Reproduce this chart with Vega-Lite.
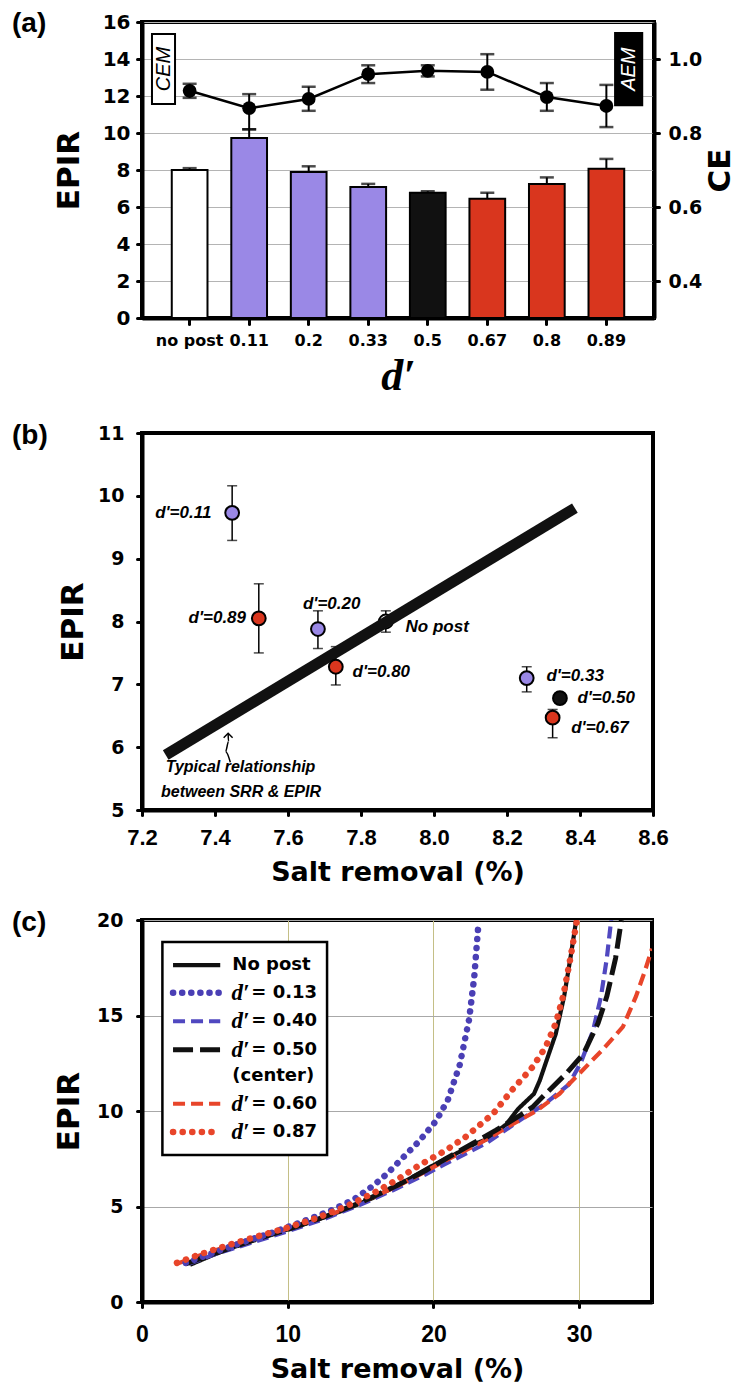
{
 "$schema": "https://vega.github.io/schema/vega-lite/v6.json",
 "background": "white",
 "padding": {"left": 10, "top": 8, "right": 0, "bottom": 0},
 "spacing": 20,
 "resolve": {"scale": {"color": "independent", "fill": "independent", "strokeDash": "independent"}},
 "config": {
  "view": {"stroke": "black", "strokeWidth": 4},
  "axis": {"labelFont": "DejaVu Sans", "labelFontWeight": "bold", "labelColor": "black", "titleFont": "DejaVu Sans", "titleFontWeight": "bold", "titleColor": "black", "domainColor": "black", "domainWidth": 4, "tickColor": "black", "tickWidth": 3, "tickSize": 5, "tickCap": "round", "grid": false, "labelFlush": false, "labelOverlap": false},
  "title": {"font": "Liberation Sans", "fontWeight": "bold", "fontSize": 28, "color": "black", "anchor": "start", "frame": "group"}
 },
 "datasets": {
  "bars": [
   {"d": "no post", "epir": 8.0, "hi": 8.1, "grp": "none"},
   {"d": "0.11", "epir": 9.73, "hi": 10.2, "grp": "CEM"},
   {"d": "0.2", "epir": 7.89, "hi": 8.2, "grp": "CEM"},
   {"d": "0.33", "epir": 7.08, "hi": 7.25, "grp": "CEM"},
   {"d": "0.5", "epir": 6.77, "hi": 6.85, "grp": "center"},
   {"d": "0.67", "epir": 6.45, "hi": 6.77, "grp": "AEM"},
   {"d": "0.8", "epir": 7.25, "hi": 7.6, "grp": "AEM"},
   {"d": "0.89", "epir": 8.07, "hi": 8.6, "grp": "AEM"}
  ],
  "ce": [
   {"d": "no post", "ce": 0.914, "lo": 0.895, "hi": 0.933},
   {"d": "0.11", "ce": 0.867, "lo": 0.81, "hi": 0.905},
   {"d": "0.2", "ce": 0.892, "lo": 0.86, "hi": 0.925},
   {"d": "0.33", "ce": 0.959, "lo": 0.935, "hi": 0.983},
   {"d": "0.5", "ce": 0.968, "lo": 0.953, "hi": 0.983},
   {"d": "0.67", "ce": 0.965, "lo": 0.917, "hi": 1.013},
   {"d": "0.8", "ce": 0.897, "lo": 0.86, "hi": 0.935},
   {"d": "0.89", "ce": 0.873, "lo": 0.816, "hi": 0.93}
  ],
  "boxes": [
   {"kind": "CEM", "x1": 0.0195, "x2": 0.0645, "y1": 11.57, "y2": 15.35, "xc": 0.042, "yc": 13.46},
   {"kind": "AEM", "x1": 0.924, "x2": 0.977, "y1": 11.5, "y2": 15.4, "xc": 0.9505, "yc": 13.45}
  ],
  "pts": [
   {"lab": "d'=0.11", "grp": "CEM", "x": 7.447, "y": 9.73, "lo": 9.29, "hi": 10.16},
   {"lab": "d'=0.89", "grp": "AEM", "x": 7.52, "y": 8.05, "lo": 7.5, "hi": 8.6},
   {"lab": "d'=0.20", "grp": "CEM", "x": 7.682, "y": 7.88, "lo": 7.57, "hi": 8.17},
   {"lab": "No post", "grp": "none", "x": 7.868, "y": 8.0, "lo": 7.83, "hi": 8.17},
   {"lab": "d'=0.80", "grp": "AEM", "x": 7.731, "y": 7.28, "lo": 6.99, "hi": 7.6},
   {"lab": "d'=0.33", "grp": "CEM", "x": 8.254, "y": 7.1, "lo": 6.88, "hi": 7.28},
   {"lab": "d'=0.50", "grp": "center", "x": 8.345, "y": 6.78, "lo": 6.7, "hi": 6.86},
   {"lab": "d'=0.67", "grp": "AEM", "x": 8.325, "y": 6.47, "lo": 6.15, "hi": 6.6}
  ],
  "trend": [{"x": 7.265, "y": 5.875}, {"x": 8.386, "y": 9.805}],
  "labR": [
   {"t": "d'=0.11", "x": 7.39, "y": 9.72},
   {"t": "d'=0.89", "x": 7.485, "y": 8.05}
  ],
  "labL": [
   {"t": "d'=0.20", "x": 7.641, "y": 8.28},
   {"t": "No post", "x": 7.922, "y": 7.92},
   {"t": "d'=0.80", "x": 7.777, "y": 7.19},
   {"t": "d'=0.33", "x": 8.308, "y": 7.14},
   {"t": "d'=0.50", "x": 8.393, "y": 6.78},
   {"t": "d'=0.67", "x": 8.376, "y": 6.31}
  ],
  "note": [
   {"t": "Typical relationship", "x": 7.265, "y": 5.68},
   {"t": "between SRR & EPIR", "x": 7.252, "y": 5.28}
  ],
  "arrow": [
   {"x": 7.442, "y": 5.76, "o": 1},
   {"x": 7.429, "y": 5.93, "o": 2},
   {"x": 7.437, "y": 6.09, "o": 3},
   {"x": 7.436, "y": 6.21, "o": 4}
  ],
  "tip": [{"x": 7.436, "y": 6.2}],
  "curves": [
   {"s": "No post", "x": 3.3, "y": 1.95}, {"s": "No post", "x": 5, "y": 2.5}, {"s": "No post", "x": 6.5, "y": 2.93}, {"s": "No post", "x": 8, "y": 3.33}, {"s": "No post", "x": 10, "y": 3.8}, {"s": "No post", "x": 12, "y": 4.3}, {"s": "No post", "x": 14, "y": 4.85}, {"s": "No post", "x": 16, "y": 5.5}, {"s": "No post", "x": 18, "y": 6.3}, {"s": "No post", "x": 19.85, "y": 7.1}, {"s": "No post", "x": 21, "y": 7.55}, {"s": "No post", "x": 22.9, "y": 8.3}, {"s": "No post", "x": 23.6, "y": 8.5}, {"s": "No post", "x": 25.0, "y": 9.3}, {"s": "No post", "x": 25.8, "y": 10.1}, {"s": "No post", "x": 26.9, "y": 10.9}, {"s": "No post", "x": 27.3, "y": 11.6}, {"s": "No post", "x": 27.7, "y": 12.5}, {"s": "No post", "x": 28.4, "y": 14.05}, {"s": "No post", "x": 28.97, "y": 16.0}, {"s": "No post", "x": 29.4, "y": 18.0}, {"s": "No post", "x": 29.8, "y": 20.0},
   {"s": "d′ = 0.13", "x": 3.0, "y": 2.05}, {"s": "d′ = 0.13", "x": 5, "y": 2.6}, {"s": "d′ = 0.13", "x": 7, "y": 3.15}, {"s": "d′ = 0.13", "x": 9, "y": 3.65}, {"s": "d′ = 0.13", "x": 11, "y": 4.2}, {"s": "d′ = 0.13", "x": 13, "y": 4.8}, {"s": "d′ = 0.13", "x": 14.5, "y": 5.35}, {"s": "d′ = 0.13", "x": 15.8, "y": 6.05}, {"s": "d′ = 0.13", "x": 16.8, "y": 6.7}, {"s": "d′ = 0.13", "x": 17.7, "y": 7.4}, {"s": "d′ = 0.13", "x": 19, "y": 8.4}, {"s": "d′ = 0.13", "x": 20.2, "y": 9.5}, {"s": "d′ = 0.13", "x": 21, "y": 10.6}, {"s": "d′ = 0.13", "x": 21.8, "y": 12.4}, {"s": "d′ = 0.13", "x": 22.45, "y": 14.8}, {"s": "d′ = 0.13", "x": 22.8, "y": 17.0}, {"s": "d′ = 0.13", "x": 23.1, "y": 19.9},
   {"s": "d′ = 0.40", "x": 3.2, "y": 2.0}, {"s": "d′ = 0.40", "x": 5, "y": 2.5}, {"s": "d′ = 0.40", "x": 7.5, "y": 3.1}, {"s": "d′ = 0.40", "x": 10, "y": 3.7}, {"s": "d′ = 0.40", "x": 12.5, "y": 4.35}, {"s": "d′ = 0.40", "x": 15, "y": 5.1}, {"s": "d′ = 0.40", "x": 17.5, "y": 5.95}, {"s": "d′ = 0.40", "x": 19.5, "y": 6.7}, {"s": "d′ = 0.40", "x": 20.85, "y": 7.24}, {"s": "d′ = 0.40", "x": 22.3, "y": 7.8}, {"s": "d′ = 0.40", "x": 23.6, "y": 8.3}, {"s": "d′ = 0.40", "x": 25.9, "y": 9.5}, {"s": "d′ = 0.40", "x": 27.7, "y": 10.4}, {"s": "d′ = 0.40", "x": 29.3, "y": 11.4}, {"s": "d′ = 0.40", "x": 30.1, "y": 12.5}, {"s": "d′ = 0.40", "x": 30.95, "y": 14.2}, {"s": "d′ = 0.40", "x": 31.5, "y": 16.0}, {"s": "d′ = 0.40", "x": 31.9, "y": 18.0}, {"s": "d′ = 0.40", "x": 32.2, "y": 20.0},
   {"s": "d′ = 0.50", "x": 3.0, "y": 2.0}, {"s": "d′ = 0.50", "x": 5, "y": 2.55}, {"s": "d′ = 0.50", "x": 7.5, "y": 3.2}, {"s": "d′ = 0.50", "x": 10, "y": 3.8}, {"s": "d′ = 0.50", "x": 12.5, "y": 4.45}, {"s": "d′ = 0.50", "x": 15, "y": 5.2}, {"s": "d′ = 0.50", "x": 17.5, "y": 6.1}, {"s": "d′ = 0.50", "x": 19.5, "y": 6.9}, {"s": "d′ = 0.50", "x": 20.85, "y": 7.5}, {"s": "d′ = 0.50", "x": 22.7, "y": 8.3}, {"s": "d′ = 0.50", "x": 24.3, "y": 9.0}, {"s": "d′ = 0.50", "x": 25.8, "y": 9.7}, {"s": "d′ = 0.50", "x": 26.8, "y": 10.2}, {"s": "d′ = 0.50", "x": 27.7, "y": 10.9}, {"s": "d′ = 0.50", "x": 29.1, "y": 11.95}, {"s": "d′ = 0.50", "x": 30.3, "y": 13.0}, {"s": "d′ = 0.50", "x": 31.3, "y": 14.6}, {"s": "d′ = 0.50", "x": 31.9, "y": 16.0}, {"s": "d′ = 0.50", "x": 32.5, "y": 18.0}, {"s": "d′ = 0.50", "x": 32.9, "y": 20.0},
   {"s": "d′ = 0.60", "x": 2.4, "y": 2.0}, {"s": "d′ = 0.60", "x": 4, "y": 2.45}, {"s": "d′ = 0.60", "x": 6, "y": 2.95}, {"s": "d′ = 0.60", "x": 8, "y": 3.4}, {"s": "d′ = 0.60", "x": 10, "y": 3.85}, {"s": "d′ = 0.60", "x": 12.5, "y": 4.45}, {"s": "d′ = 0.60", "x": 15, "y": 5.2}, {"s": "d′ = 0.60", "x": 17.5, "y": 6.05}, {"s": "d′ = 0.60", "x": 19.5, "y": 6.85}, {"s": "d′ = 0.60", "x": 20.85, "y": 7.42}, {"s": "d′ = 0.60", "x": 23.15, "y": 8.3}, {"s": "d′ = 0.60", "x": 25.4, "y": 9.3}, {"s": "d′ = 0.60", "x": 27.05, "y": 10.0}, {"s": "d′ = 0.60", "x": 28.65, "y": 10.9}, {"s": "d′ = 0.60", "x": 30.0, "y": 11.95}, {"s": "d′ = 0.60", "x": 31.6, "y": 13.2}, {"s": "d′ = 0.60", "x": 33.0, "y": 14.4}, {"s": "d′ = 0.60", "x": 33.9, "y": 16.0}, {"s": "d′ = 0.60", "x": 34.5, "y": 17.3}, {"s": "d′ = 0.60", "x": 35.0, "y": 18.5},
   {"s": "d′ = 0.87", "x": 2.4, "y": 2.05}, {"s": "d′ = 0.87", "x": 4, "y": 2.5}, {"s": "d′ = 0.87", "x": 6, "y": 3.0}, {"s": "d′ = 0.87", "x": 8, "y": 3.45}, {"s": "d′ = 0.87", "x": 10, "y": 3.9}, {"s": "d′ = 0.87", "x": 12, "y": 4.4}, {"s": "d′ = 0.87", "x": 14, "y": 5.0}, {"s": "d′ = 0.87", "x": 16, "y": 5.75}, {"s": "d′ = 0.87", "x": 17.5, "y": 6.4}, {"s": "d′ = 0.87", "x": 19, "y": 7.15}, {"s": "d′ = 0.87", "x": 20.85, "y": 7.94}, {"s": "d′ = 0.87", "x": 22.2, "y": 8.64}, {"s": "d′ = 0.87", "x": 24.1, "y": 9.86}, {"s": "d′ = 0.87", "x": 25.4, "y": 11.1}, {"s": "d′ = 0.87", "x": 26.8, "y": 12.3}, {"s": "d′ = 0.87", "x": 27.7, "y": 13.35}, {"s": "d′ = 0.87", "x": 28.4, "y": 14.6}, {"s": "d′ = 0.87", "x": 28.9, "y": 16.0}, {"s": "d′ = 0.87", "x": 29.4, "y": 18.0}, {"s": "d′ = 0.87", "x": 29.85, "y": 20.0}
  ],
  "legbox": [{"x1": 1.4, "x2": 12.7, "y1": 7.7, "y2": 18.85}],
  "legs": [
   {"s": "No post", "y": 17.64, "x1": 2.13, "x2": 5.37},
   {"s": "d′ = 0.13", "y": 16.19, "x1": 2.13, "x2": 5.37},
   {"s": "d′ = 0.40", "y": 14.7, "x1": 2.13, "x2": 5.37},
   {"s": "d′ = 0.50", "y": 13.21, "x1": 2.13, "x2": 5.37},
   {"s": "d′ = 0.60", "y": 10.38, "x1": 2.13, "x2": 5.37},
   {"s": "d′ = 0.87", "y": 8.9, "x1": 2.13, "x2": 5.37}
  ],
  "legtext": [
   {"dp": "", "tx": 6.15, "val": "No post", "vx": 6.2, "y": 17.64},
   {"dp": "d′", "tx": 6.15, "val": "= 0.13", "vx": 7.5, "y": 16.19},
   {"dp": "d′", "tx": 6.15, "val": "= 0.40", "vx": 7.5, "y": 14.7},
   {"dp": "d′", "tx": 6.15, "val": "= 0.50", "vx": 7.5, "y": 13.21},
   {"dp": "", "tx": 6.15, "val": "(center)", "vx": 6.2, "y": 11.82},
   {"dp": "d′", "tx": 6.15, "val": "= 0.60", "vx": 7.5, "y": 10.38},
   {"dp": "d′", "tx": 6.15, "val": "= 0.87", "vx": 7.5, "y": 8.9}
  ]
 },
 "vconcat": [
  {
   "width": 512, "height": 296,
   "title": {"text": "(a)", "dx": -130, "offset": -26},
   "layer": [
    {
     "data": {"name": "bars"},
     "encoding": {"x": {"field": "d", "type": "nominal", "sort": null, "scale": {"paddingInner": 0.4, "paddingOuter": 0.5}, "title": "d′", "axis": {"labelFontSize": 16, "labelAngle": 0, "tickSize": 6, "labelPadding": 8, "titleFont": "Liberation Serif", "titleFontStyle": "italic", "titleFontSize": 44, "titlePadding": 6}}},
     "layer": [
      {"mark": {"type": "bar", "stroke": "black", "strokeWidth": 2}, "encoding": {"y": {"field": "epir", "type": "quantitative", "scale": {"domain": [0, 16]}, "title": "EPIR", "axis": {"values": [0, 2, 4, 6, 8, 10, 12, 14, 16], "grid": true, "gridColor": "#b4b4b4", "gridWidth": 1, "labelFontSize": 20, "labelPadding": 7, "titleFontSize": 31, "titlePadding": 17}}, "fill": {"field": "grp", "type": "nominal", "scale": {"domain": ["none", "CEM", "center", "AEM"], "range": ["white", "#9a88e6", "#111111", "#d9361e"]}, "legend": null}}},
      {"mark": {"type": "rule", "color": "black", "strokeWidth": 2}, "encoding": {"y": {"field": "epir", "type": "quantitative", "title": "EPIR", "axis": {"values": [0, 2, 4, 6, 8, 10, 12, 14, 16], "grid": true, "gridColor": "#b4b4b4", "gridWidth": 1, "labelFontSize": 20, "labelPadding": 7, "titleFontSize": 31, "titlePadding": 17}}, "y2": {"field": "hi"}}},
      {"mark": {"type": "tick", "color": "black", "thickness": 2.5, "size": 14, "orient": "horizontal"}, "encoding": {"y": {"field": "hi", "type": "quantitative", "title": "EPIR", "axis": {"values": [0, 2, 4, 6, 8, 10, 12, 14, 16], "grid": true, "gridColor": "#b4b4b4", "gridWidth": 1, "labelFontSize": 20, "labelPadding": 7, "titleFontSize": 31, "titlePadding": 17}}}}
     ]
    },
    {
     "data": {"name": "ce"},
     "encoding": {"x": {"field": "d", "type": "nominal", "sort": null, "scale": {"paddingInner": 0.4, "paddingOuter": 0.5}, "axis": null}},
     "layer": [
      {"mark": {"type": "line", "color": "black", "strokeWidth": 2.5}, "encoding": {"y": {"field": "ce", "type": "quantitative", "scale": {"domain": [0.3, 1.1]}, "title": "CE", "axis": {"orient": "right", "values": [0.4, 0.6, 0.8, 1.0], "format": ".1f", "labelFontSize": 19, "labelPadding": 9, "titleFontSize": 31, "titleAngle": 270, "titleBaseline": "top", "titlePadding": 4}}}},
      {"mark": {"type": "rule", "color": "black", "strokeWidth": 2}, "encoding": {"y": {"field": "lo", "type": "quantitative", "title": "CE"}, "y2": {"field": "hi"}}},
      {"mark": {"type": "tick", "color": "black", "thickness": 2.5, "size": 14, "orient": "horizontal"}, "encoding": {"y": {"field": "lo", "type": "quantitative", "title": "CE"}}},
      {"mark": {"type": "tick", "color": "black", "thickness": 2.5, "size": 14, "orient": "horizontal"}, "encoding": {"y": {"field": "hi", "type": "quantitative", "title": "CE"}}},
      {"mark": {"type": "circle", "color": "black", "size": 190, "opacity": 1}, "encoding": {"y": {"field": "ce", "type": "quantitative", "title": "CE"}}}
     ]
    },
    {
     "data": {"name": "boxes"},
     "layer": [
      {"mark": {"type": "rect", "stroke": "black", "strokeWidth": 2}, "encoding": {"x": {"field": "x1", "type": "quantitative", "scale": {"domain": [0, 1]}, "axis": null}, "x2": {"field": "x2"}, "y": {"field": "y1", "type": "quantitative", "scale": {"domain": [0, 16]}, "axis": null}, "y2": {"field": "y2"}, "fill": {"field": "kind", "type": "nominal", "scale": {"domain": ["CEM", "AEM"], "range": ["white", "black"]}, "legend": null}}},
      {"mark": {"type": "text", "angle": 270, "font": "Liberation Sans", "fontStyle": "italic", "fontSize": 20, "baseline": "middle", "align": "center"}, "encoding": {"x": {"field": "xc", "type": "quantitative", "axis": null}, "y": {"field": "yc", "type": "quantitative", "axis": null}, "text": {"field": "kind"}, "color": {"field": "kind", "type": "nominal", "scale": {"domain": ["CEM", "AEM"], "range": ["black", "white"]}, "legend": null}}}
     ]
    }
   ],
   "resolve": {"scale": {"x": "independent", "y": "independent", "fill": "independent", "color": "independent"}}
  },
  {
   "width": 511, "height": 377,
   "title": {"text": "(b)", "dx": -130, "offset": -26},
   "layer": [
    {"data": {"name": "pts"}, "mark": {"type": "rule", "color": "black", "strokeWidth": 1.5},
     "encoding": {"x": {"field": "x", "type": "quantitative", "scale": {"domain": [7.2, 8.6], "nice": false, "zero": false}, "title": "Salt removal (%)", "axis": {"values": [7.2, 7.4, 7.6, 7.8, 8.0, 8.2, 8.4, 8.6], "format": ".1f", "labelFont": "Liberation Sans", "labelFontSize": 22, "labelPadding": 12, "titleFontSize": 27, "titlePadding": 11}},
      "y": {"field": "lo", "type": "quantitative", "scale": {"domain": [5, 11], "nice": false, "zero": false}, "title": "EPIR", "axis": {"values": [5, 6, 7, 8, 9, 10, 11], "format": "d", "labelFontSize": 19, "labelPadding": 13, "titleFontSize": 31, "titlePadding": 8}}, "y2": {"field": "hi"}}},
    {"data": {"name": "pts"}, "mark": {"type": "tick", "color": "black", "thickness": 1.5, "size": 10, "orient": "horizontal"}, "encoding": {"x": {"field": "x", "type": "quantitative", "title": "Salt removal (%)"}, "y": {"field": "lo", "type": "quantitative", "title": "EPIR"}}},
    {"data": {"name": "pts"}, "mark": {"type": "tick", "color": "black", "thickness": 1.5, "size": 10, "orient": "horizontal"}, "encoding": {"x": {"field": "x", "type": "quantitative", "title": "Salt removal (%)"}, "y": {"field": "hi", "type": "quantitative", "title": "EPIR"}}},
    {"data": {"name": "pts"}, "transform": [{"filter": "datum.grp == 'none'"}], "mark": {"type": "circle", "size": 190, "stroke": "black", "strokeWidth": 2, "opacity": 1}, "encoding": {"x": {"field": "x", "type": "quantitative", "title": "Salt removal (%)"}, "y": {"field": "y", "type": "quantitative", "title": "EPIR"}, "fill": {"field": "grp", "type": "nominal", "scale": {"domain": ["none", "CEM", "center", "AEM"], "range": ["white", "#9a88e6", "#111111", "#d9361e"]}, "legend": null}}},
    {"data": {"name": "trend"}, "mark": {"type": "line", "color": "#111111", "strokeWidth": 11, "strokeCap": "butt"}, "encoding": {"x": {"field": "x", "type": "quantitative", "title": "Salt removal (%)"}, "y": {"field": "y", "type": "quantitative", "title": "EPIR"}}},
    {"data": {"name": "pts"}, "transform": [{"filter": "datum.grp != 'none'"}], "mark": {"type": "circle", "size": 190, "stroke": "black", "strokeWidth": 2, "opacity": 1}, "encoding": {"x": {"field": "x", "type": "quantitative", "title": "Salt removal (%)"}, "y": {"field": "y", "type": "quantitative", "title": "EPIR"}, "fill": {"field": "grp", "type": "nominal", "scale": {"domain": ["none", "CEM", "center", "AEM"], "range": ["white", "#9a88e6", "#111111", "#d9361e"]}, "legend": null}}},
    {"data": {"name": "labR"}, "mark": {"type": "text", "align": "right", "baseline": "middle", "font": "Liberation Sans", "fontWeight": "bold", "fontStyle": "italic", "fontSize": 17, "color": "black"}, "encoding": {"x": {"field": "x", "type": "quantitative", "title": "Salt removal (%)"}, "y": {"field": "y", "type": "quantitative", "title": "EPIR"}, "text": {"field": "t"}}},
    {"data": {"name": "labL"}, "mark": {"type": "text", "align": "left", "baseline": "middle", "font": "Liberation Sans", "fontWeight": "bold", "fontStyle": "italic", "fontSize": 17, "color": "black"}, "encoding": {"x": {"field": "x", "type": "quantitative", "title": "Salt removal (%)"}, "y": {"field": "y", "type": "quantitative", "title": "EPIR"}, "text": {"field": "t"}}},
    {"data": {"name": "note"}, "mark": {"type": "text", "align": "left", "baseline": "middle", "font": "Liberation Sans", "fontWeight": "bold", "fontStyle": "italic", "fontSize": 16, "color": "black"}, "encoding": {"x": {"field": "x", "type": "quantitative", "title": "Salt removal (%)"}, "y": {"field": "y", "type": "quantitative", "title": "EPIR"}, "text": {"field": "t"}}},
    {"data": {"name": "arrow"}, "mark": {"type": "line", "color": "black", "strokeWidth": 1.5, "interpolate": "monotone"}, "encoding": {"x": {"field": "x", "type": "quantitative", "title": "Salt removal (%)"}, "y": {"field": "y", "type": "quantitative", "title": "EPIR"}, "order": {"field": "o"}}},
    {"data": {"name": "tip"}, "mark": {"type": "point", "shape": "M-1,0.7L0,-0.3L1,0.7", "size": 80, "filled": false, "color": "black", "strokeWidth": 1.5, "opacity": 1}, "encoding": {"x": {"field": "x", "type": "quantitative", "title": "Salt removal (%)"}, "y": {"field": "y", "type": "quantitative", "title": "EPIR"}}}
   ]
  },
  {
   "width": 510, "height": 382,
   "title": {"text": "(c)", "dx": -130, "offset": -26},
   "layer": [
    {"data": {"name": "curves"}, "transform": [{"filter": {"field": "s", "oneOf": ["No post", "d′ = 0.40", "d′ = 0.60"]}}], "mark": {"type": "line", "strokeCap": "butt", "strokeWidth": 4.2, "clip": true},
     "encoding": {"x": {"field": "x", "type": "quantitative", "scale": {"domain": [0, 35], "nice": false}, "title": "Salt removal (%)", "axis": {"values": [0, 10, 20, 30], "grid": true, "gridColor": "#c4bf86", "gridWidth": 1, "labelFont": "Liberation Sans", "labelFontSize": 23, "labelPadding": 16, "titleFontSize": 27, "titlePadding": 10}},
      "y": {"field": "y", "type": "quantitative", "scale": {"domain": [0, 20], "nice": false}, "title": "EPIR", "axis": {"values": [0, 5, 10, 15, 20], "grid": true, "gridColor": "#a8a8a8", "gridWidth": 1, "labelFontSize": 19, "labelPadding": 14, "titleFontSize": 31, "titlePadding": 11}},
      "color": {"field": "s", "type": "nominal", "scale": {"domain": ["No post", "d′ = 0.13", "d′ = 0.40", "d′ = 0.50", "d′ = 0.60", "d′ = 0.87"], "range": ["#111111", "#4a3fb5", "#5048c0", "#111111", "#e8452a", "#e8452a"]}, "legend": null},
      "strokeDash": {"field": "s", "type": "nominal", "scale": {"domain": ["No post", "d′ = 0.13", "d′ = 0.40", "d′ = 0.50", "d′ = 0.60", "d′ = 0.87"], "range": [[1, 0], [0.1, 9], [12, 6], [20, 7], [12, 6], [0.1, 9.5]]}, "legend": null}}},
    {"data": {"name": "curves"}, "transform": [{"filter": {"field": "s", "equal": "d′ = 0.50"}}], "mark": {"type": "line", "strokeCap": "butt", "strokeWidth": 5, "clip": true},
     "encoding": {"x": {"field": "x", "type": "quantitative", "title": "Salt removal (%)"}, "y": {"field": "y", "type": "quantitative", "title": "EPIR"},
      "color": {"field": "s", "type": "nominal", "legend": null}, "strokeDash": {"field": "s", "type": "nominal", "legend": null}}},
    {"data": {"name": "curves"}, "transform": [{"filter": {"field": "s", "oneOf": ["d′ = 0.13", "d′ = 0.87"]}}], "mark": {"type": "line", "strokeCap": "round", "strokeWidth": 6.5, "clip": true},
     "encoding": {"x": {"field": "x", "type": "quantitative", "title": "Salt removal (%)"}, "y": {"field": "y", "type": "quantitative", "title": "EPIR"},
      "color": {"field": "s", "type": "nominal", "legend": null}, "strokeDash": {"field": "s", "type": "nominal", "legend": null}}},
    {"data": {"name": "legbox"}, "mark": {"type": "rect", "fill": "white", "stroke": "black", "strokeWidth": 2.5}, "encoding": {"x": {"field": "x1", "type": "quantitative", "title": "Salt removal (%)"}, "x2": {"field": "x2"}, "y": {"field": "y1", "type": "quantitative", "title": "EPIR"}, "y2": {"field": "y2"}}},
    {"data": {"name": "legs"}, "transform": [{"filter": {"field": "s", "oneOf": ["No post", "d′ = 0.40", "d′ = 0.60"]}}], "mark": {"type": "rule", "strokeCap": "butt", "strokeWidth": 4.2}, "encoding": {"x": {"field": "x1", "type": "quantitative", "title": "Salt removal (%)"}, "x2": {"field": "x2"}, "y": {"field": "y", "type": "quantitative", "title": "EPIR"}, "color": {"field": "s", "type": "nominal", "legend": null}, "strokeDash": {"field": "s", "type": "nominal", "legend": null}}},
    {"data": {"name": "legs"}, "transform": [{"filter": {"field": "s", "equal": "d′ = 0.50"}}], "mark": {"type": "rule", "strokeCap": "butt", "strokeWidth": 5}, "encoding": {"x": {"field": "x1", "type": "quantitative", "title": "Salt removal (%)"}, "x2": {"field": "x2"}, "y": {"field": "y", "type": "quantitative", "title": "EPIR"}, "color": {"field": "s", "type": "nominal", "legend": null}, "strokeDash": {"field": "s", "type": "nominal", "legend": null}}},
    {"data": {"name": "legs"}, "transform": [{"filter": {"field": "s", "oneOf": ["d′ = 0.13", "d′ = 0.87"]}}], "mark": {"type": "rule", "strokeCap": "round", "strokeWidth": 6.5}, "encoding": {"x": {"field": "x1", "type": "quantitative", "title": "Salt removal (%)"}, "x2": {"field": "x2"}, "y": {"field": "y", "type": "quantitative", "title": "EPIR"}, "color": {"field": "s", "type": "nominal", "legend": null}, "strokeDash": {"field": "s", "type": "nominal", "legend": null}}},
    {"data": {"name": "legtext"}, "mark": {"type": "text", "align": "left", "baseline": "middle", "font": "Liberation Serif", "fontWeight": "bold", "fontStyle": "italic", "fontSize": 23, "color": "black"}, "encoding": {"x": {"field": "tx", "type": "quantitative", "title": "Salt removal (%)"}, "y": {"field": "y", "type": "quantitative", "title": "EPIR"}, "text": {"field": "dp"}}},
    {"data": {"name": "legtext"}, "mark": {"type": "text", "align": "left", "baseline": "middle", "font": "DejaVu Sans", "fontWeight": "bold", "fontSize": 18, "color": "black"}, "encoding": {"x": {"field": "vx", "type": "quantitative", "title": "Salt removal (%)"}, "y": {"field": "y", "type": "quantitative", "title": "EPIR"}, "text": {"field": "val"}}}
   ]
  }
 ]
}
